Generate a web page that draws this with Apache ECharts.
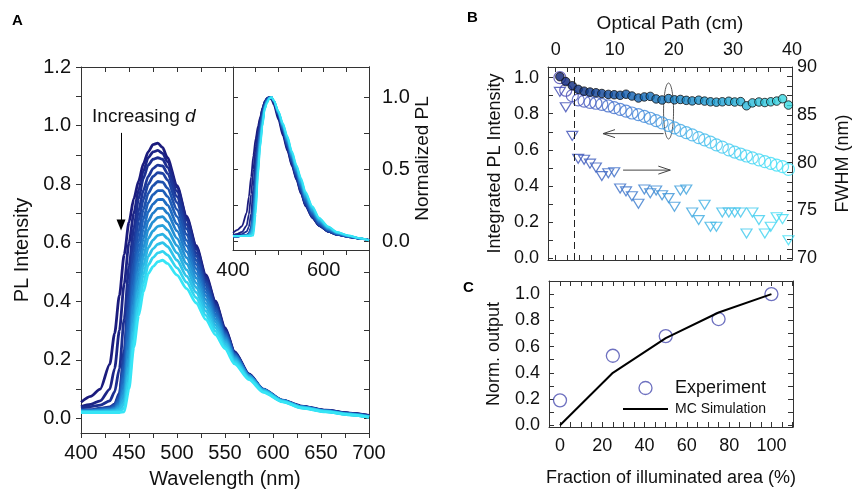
<!DOCTYPE html>
<html>
<head>
<meta charset="utf-8">
<script src="https://cdn.jsdelivr.net/npm/echarts@6/dist/echarts.min.js"></script>
<style>
html, body { margin: 0; padding: 0; background: #fff; }
#chart { width: 859px; height: 490px; }
</style>
</head>
<body>
<div id="chart"></div>
<script>
// ---- panel A : PL spectra (one row per excitation distance d) ----
var wavelengths = [400, 410, 420, 430, 435, 440, 445, 450, 455, 460, 465, 470, 475, 480, 485, 490, 500, 510, 520, 530, 540, 550, 560, 575, 590, 610, 630, 655, 680, 700];
var spectra = [
    [0.055, 0.075, 0.100, 0.185, 0.290, 0.420, 0.560, 0.670, 0.750, 0.810, 0.870, 0.910, 0.935, 0.940, 0.925, 0.890, 0.795, 0.690, 0.590, 0.490, 0.400, 0.310, 0.228, 0.152, 0.100, 0.062, 0.042, 0.028, 0.018, 0.010],
    [0.040, 0.048, 0.060, 0.100, 0.170, 0.300, 0.460, 0.600, 0.700, 0.780, 0.845, 0.890, 0.910, 0.915, 0.905, 0.877, 0.790, 0.685, 0.585, 0.485, 0.396, 0.306, 0.226, 0.150, 0.098, 0.061, 0.041, 0.027, 0.017, 0.009],
    [0.035, 0.040, 0.045, 0.060, 0.090, 0.170, 0.340, 0.520, 0.650, 0.750, 0.820, 0.865, 0.885, 0.890, 0.885, 0.858, 0.775, 0.677, 0.578, 0.480, 0.392, 0.303, 0.224, 0.149, 0.097, 0.060, 0.040, 0.027, 0.017, 0.009],
    [0.029, 0.029, 0.035, 0.039, 0.049, 0.087, 0.234, 0.458, 0.606, 0.709, 0.779, 0.826, 0.853, 0.865, 0.862, 0.837, 0.757, 0.662, 0.565, 0.471, 0.386, 0.298, 0.221, 0.146, 0.095, 0.059, 0.039, 0.026, 0.016, 0.008],
    [0.029, 0.029, 0.033, 0.037, 0.046, 0.079, 0.209, 0.419, 0.569, 0.676, 0.748, 0.799, 0.826, 0.839, 0.837, 0.814, 0.737, 0.647, 0.554, 0.464, 0.381, 0.297, 0.222, 0.148, 0.097, 0.060, 0.039, 0.026, 0.015, 0.008],
    [0.028, 0.028, 0.032, 0.035, 0.043, 0.072, 0.185, 0.379, 0.530, 0.639, 0.714, 0.768, 0.795, 0.809, 0.807, 0.786, 0.713, 0.628, 0.540, 0.453, 0.374, 0.293, 0.220, 0.148, 0.097, 0.060, 0.039, 0.026, 0.015, 0.007],
    [0.027, 0.027, 0.031, 0.033, 0.040, 0.065, 0.162, 0.340, 0.493, 0.603, 0.681, 0.736, 0.764, 0.778, 0.778, 0.758, 0.689, 0.608, 0.526, 0.442, 0.366, 0.289, 0.219, 0.148, 0.098, 0.061, 0.039, 0.026, 0.015, 0.007],
    [0.026, 0.026, 0.029, 0.032, 0.037, 0.058, 0.140, 0.304, 0.457, 0.569, 0.648, 0.705, 0.732, 0.747, 0.748, 0.729, 0.664, 0.589, 0.511, 0.431, 0.357, 0.285, 0.216, 0.148, 0.098, 0.061, 0.039, 0.026, 0.015, 0.006],
    [0.025, 0.025, 0.028, 0.030, 0.034, 0.051, 0.119, 0.269, 0.422, 0.535, 0.615, 0.674, 0.701, 0.717, 0.718, 0.701, 0.640, 0.569, 0.495, 0.419, 0.349, 0.280, 0.213, 0.147, 0.097, 0.060, 0.039, 0.025, 0.014, 0.006],
    [0.025, 0.025, 0.026, 0.028, 0.032, 0.045, 0.100, 0.237, 0.389, 0.502, 0.583, 0.644, 0.671, 0.686, 0.689, 0.672, 0.615, 0.549, 0.480, 0.406, 0.339, 0.274, 0.210, 0.145, 0.097, 0.060, 0.039, 0.025, 0.014, 0.005],
    [0.024, 0.024, 0.025, 0.026, 0.029, 0.040, 0.082, 0.206, 0.357, 0.470, 0.552, 0.614, 0.640, 0.656, 0.659, 0.644, 0.590, 0.528, 0.463, 0.393, 0.330, 0.268, 0.206, 0.143, 0.096, 0.060, 0.038, 0.024, 0.014, 0.005],
    [0.023, 0.023, 0.024, 0.025, 0.027, 0.034, 0.065, 0.177, 0.327, 0.439, 0.521, 0.583, 0.609, 0.625, 0.629, 0.615, 0.565, 0.507, 0.447, 0.380, 0.319, 0.261, 0.202, 0.141, 0.095, 0.059, 0.037, 0.024, 0.013, 0.005],
    [0.022, 0.022, 0.022, 0.023, 0.024, 0.029, 0.050, 0.150, 0.297, 0.409, 0.491, 0.553, 0.579, 0.595, 0.600, 0.587, 0.540, 0.486, 0.430, 0.366, 0.309, 0.254, 0.197, 0.139, 0.093, 0.058, 0.037, 0.023, 0.013, 0.004],
    [0.021, 0.021, 0.021, 0.021, 0.022, 0.024, 0.035, 0.124, 0.269, 0.379, 0.461, 0.524, 0.549, 0.565, 0.570, 0.558, 0.514, 0.465, 0.412, 0.352, 0.298, 0.246, 0.192, 0.136, 0.091, 0.057, 0.036, 0.023, 0.012, 0.004],
    [0.020, 0.020, 0.020, 0.020, 0.020, 0.020, 0.022, 0.101, 0.243, 0.351, 0.432, 0.494, 0.518, 0.535, 0.540, 0.529, 0.489, 0.443, 0.394, 0.338, 0.286, 0.238, 0.186, 0.132, 0.089, 0.056, 0.035, 0.022, 0.012, 0.004]
];
var wlLabels = [400, 450, 500, 550, 600, 650, 700];
var plLabels = [0, 0.2, 0.4, 0.6, 0.8, 1.0, 1.2];
var insetXLabels = [400, 600];
var insetYLabels = [0, 0.5, 1.0];

// ---- panel B : optical path series ----
var pathCm = [0.7, 1.7, 2.8, 3.8, 4.8, 5.8, 6.8, 7.8, 8.9, 9.9, 10.9, 11.9, 12.9, 14.0, 15.0, 16.0, 17.0, 18.0, 19.1, 20.1, 21.1, 22.1, 23.1, 24.2, 25.2, 26.2, 27.2, 28.2, 29.3, 30.3, 31.3, 32.3, 33.3, 34.4, 35.4, 36.4, 37.4, 38.4, 39.4];
var intFilled = [1.005, 0.978, 0.955, 0.935, 0.925, 0.920, 0.916, 0.912, 0.907, 0.905, 0.902, 0.908, 0.898, 0.887, 0.893, 0.896, 0.882, 0.876, 0.884, 0.877, 0.879, 0.874, 0.871, 0.875, 0.870, 0.866, 0.864, 0.866, 0.869, 0.865, 0.867, 0.844, 0.860, 0.865, 0.862, 0.866, 0.870, 0.883, 0.848];
var intOpen = [1.000, 0.930, 0.900, 0.877, 0.870, 0.863, 0.858, 0.852, 0.843, 0.834, 0.824, 0.814, 0.804, 0.795, 0.785, 0.775, 0.762, 0.749, 0.735, 0.722, 0.708, 0.695, 0.683, 0.668, 0.655, 0.643, 0.628, 0.615, 0.600, 0.588, 0.577, 0.566, 0.556, 0.545, 0.535, 0.525, 0.516, 0.507, 0.492];
var fwhm = [87.4, 85.8, 82.8, 80.4, 80.3, 79.9, 79.5, 78.6, 78.9, 79.0, 77.3, 77.0, 76.5, 75.7, 77.2, 76.8, 77.1, 76.6, 76.3, 75.4, 77.1, 77.2, 74.8, 74.0, 75.6, 73.3, 73.3, 74.8, 74.8, 74.8, 74.8, 72.6, 74.8, 74.0, 72.6, 73.3, 74.3, 74.1, 71.9];
var pathLabels = [0, 10, 20, 30, 40];
var intLabels = [0, 0.2, 0.4, 0.6, 0.8, 1.0];
var fwhmLabels = [70, 75, 80, 85, 90];

// ---- panel C : output vs illuminated fraction ----
var fracArea = [0, 25, 50, 75, 100];
var normExp = [0.19, 0.53, 0.68, 0.81, 1.00];
var normSim = [0.00, 0.40, 0.665, 0.86, 1.00];
var fracLabels = [0, 20, 40, 60, 80, 100];
var normLabels = [0, 0.2, 0.4, 0.6, 0.8, 1.0];

var FONT = '"Liberation Sans", Arial, sans-serif';
var AX = '#333';
var TXT = '#111';

function range(a, b, step) {
    var out = [];
    for (var v = a; v <= b + 1e-9; v += step) {
        out.push(Math.round(v * 1000) / 1000);
    }
    return out;
}

function mix(stops, t) {
    var n = stops.length - 1;
    var p = Math.max(0, Math.min(1, t)) * n;
    var i = Math.min(Math.floor(p), n - 1);
    var f = p - i;
    var a = stops[i], b = stops[i + 1];
    var c = [0, 1, 2].map(function(k) {
        var x = parseInt(a.substr(1 + 2 * k, 2), 16);
        var y = parseInt(b.substr(1 + 2 * k, 2), 16);
        return Math.round(x + (y - x) * f);
    });
    return 'rgb(' + c.join(',') + ')';
}

function ticks(vals, inside) {
    return { show: true, inside: inside, length: 5, customValues: vals, lineStyle: { color: AX } };
}

function labels(vals, size, margin, dec) {
    return {
        show: true, customValues: vals, fontSize: size, margin: margin, color: TXT, fontFamily: FONT,
        formatter: function(v) { return dec ? Number(v).toFixed(dec) : String(Math.round(v)); }
    };
}

function axis(opt) {
    return Object.assign({
        type: 'value',
        axisLine: { show: true, onZero: false, lineStyle: { color: AX, width: 1 } },
        splitLine: { show: false },
        axisTick: { show: false },
        axisLabel: { show: false },
        nameLocation: 'middle',
        nameTextStyle: { color: TXT, fontFamily: FONT, fontSize: 18 }
    }, opt);
}

var specStops = ['#1b1b7d', '#1d3c9e', '#1f6cc2', '#28a9df', '#36e5f6'];
var series = [];

spectra.forEach(function(row, k) {
    var col = mix(specStops, k / (spectra.length - 1));
    var s = {
        type: 'line', xAxisIndex: 0, yAxisIndex: 0, silent: true,
        showSymbol: false, smooth: 0.25, smoothMonotone: 'x',
        lineStyle: { width: 2.8, color: col },
        data: wavelengths.map(function(w, i) { return [w, row[i]]; })
    };
    if (k === 0) {
        s.markLine = {
            silent: true, symbol: ['none', 'triangle'], symbolSize: [9, 11],
            label: { show: false },
            lineStyle: { color: '#000', width: 1, type: 'solid' },
            data: [[{ coord: [441.7, 0.975] }, { coord: [441.7, 0.66] }]]
        };
    }
    series.push(s);
});

// inset: each spectrum divided by its own maximum
spectra.forEach(function(row, k) {
    var col = mix(specStops, k / (spectra.length - 1));
    var peak = Math.max.apply(null, row);
    series.push({
        type: 'line', xAxisIndex: 2, yAxisIndex: 3, silent: true,
        showSymbol: false, smooth: 0.25, smoothMonotone: 'x',
        lineStyle: { width: 1.8, color: col },
        data: wavelengths.map(function(w, i) { return [w, row[i] / peak]; })
    });
});

var openStops = ['#4a42b0', '#3f7fd6', '#41c4ef', '#40e4f8'];
var triStops = ['#3b43b0', '#3a78cc', '#3cb6e6', '#3ee0f6'];
var fillStops = ['#0a1a70', '#1062b4', '#1d9cd2', '#38dce2'];

series.push({
    type: 'scatter', xAxisIndex: 4, yAxisIndex: 5, silent: true,
    symbol: 'triangle', symbolRotate: 180, symbolSize: [11, 9],
    data: pathCm.map(function(x, i) {
        return { value: [x, fwhm[i]], itemStyle: { color: 'rgba(0,0,0,0)', borderColor: mix(triStops, x / 40), borderWidth: 1.2 } };
    })
});
series.push({
    type: 'scatter', xAxisIndex: 4, yAxisIndex: 4, silent: true,
    symbol: 'circle', symbolSize: 12,
    data: pathCm.map(function(x, i) {
        return { value: [x, intOpen[i]], itemStyle: { color: 'rgba(0,0,0,0)', borderColor: mix(openStops, x / 40), borderWidth: 1.2 } };
    })
});
series.push({
    type: 'scatter', xAxisIndex: 4, yAxisIndex: 4, silent: true,
    symbol: 'circle', symbolSize: 8.5,
    data: pathCm.map(function(x, i) {
        return { value: [x, intFilled[i]], itemStyle: { color: mix(fillStops, x / 40), borderColor: '#111', borderWidth: 1 } };
    }),
    markLine: {
        silent: true, symbol: 'none', label: { show: false },
        lineStyle: { color: '#222', width: 1, type: [7, 4] },
        data: [{ xAxis: 3.2 }]
    }
});

series.push({
    name: 'MC Simulation', type: 'line', xAxisIndex: 6, yAxisIndex: 6, silent: true,
    symbol: 'none', lineStyle: { color: '#000', width: 2 }, itemStyle: { color: '#000' },
    data: fracArea.map(function(x, i) { return [x, normSim[i]]; })
});
series.push({
    name: 'Experiment', type: 'scatter', xAxisIndex: 6, yAxisIndex: 6, silent: true,
    symbol: 'circle', symbolSize: 13,
    itemStyle: { color: 'rgba(0,0,0,0)', borderColor: '#4a4db0', borderWidth: 1.3 },
    data: fracArea.map(function(x, i) { return [x, normExp[i]]; })
});

var option = {
    animation: false,
    backgroundColor: '#fff',
    textStyle: { fontFamily: FONT },
    grid: [
        { left: 81, top: 67, width: 288, height: 366, outerBoundsMode: 'none' },
        { left: 233, top: 67, width: 136, height: 183, outerBoundsMode: 'none' },
        { left: 548, top: 67, width: 244, height: 193, outerBoundsMode: 'none' },
        { left: 549, top: 281, width: 244, height: 146, outerBoundsMode: 'none' }
    ],
    xAxis: [
        axis({ gridIndex: 0, position: 'bottom', min: 400, max: 700, axisTick: ticks(range(400, 700, 25), false),
            axisLabel: labels(wlLabels, 20, 10), name: 'Wavelength (nm)', nameGap: 36,
            nameTextStyle: { color: TXT, fontFamily: FONT, fontSize: 20 } }),
        axis({ gridIndex: 0, position: 'top', min: 400, max: 700, axisTick: ticks(range(425, 550, 25), true) }),
        axis({ gridIndex: 1, position: 'bottom', min: 400, max: 700, axisTick: ticks(range(450, 650, 50), false),
            axisLabel: labels(insetXLabels, 20, 10) }),
        axis({ gridIndex: 1, position: 'top', min: 400, max: 700, axisTick: ticks(range(450, 650, 50), true) }),
        axis({ gridIndex: 2, position: 'top', min: -1.31, max: 40, axisTick: ticks(range(0, 40, 2), true),
            axisLabel: labels(pathLabels, 18, 8), name: 'Optical Path (cm)', nameGap: 34,
            nameTextStyle: { color: TXT, fontFamily: FONT, fontSize: 19 } }),
        axis({ gridIndex: 2, position: 'bottom', min: -1.31, max: 40, axisTick: ticks(range(0, 40, 2), true) }),
        axis({ gridIndex: 3, position: 'bottom', min: -5.2, max: 110.2, axisTick: ticks(range(0, 110, 5), true),
            axisLabel: labels(fracLabels, 18, 10), name: 'Fraction of illuminated area (%)', nameGap: 42,
            nameTextStyle: { color: TXT, fontFamily: FONT, fontSize: 18 } }),
        axis({ gridIndex: 3, position: 'top', min: -5.2, max: 110.2, axisTick: ticks(range(0, 110, 5), true) })
    ],
    yAxis: [
        axis({ gridIndex: 0, position: 'left', min: -0.05, max: 1.2, axisTick: ticks(range(0, 1.2, 0.1), false),
            axisLabel: labels(plLabels, 20, 10, 1), name: 'PL Intensity', nameGap: 49,
            nameTextStyle: { color: TXT, fontFamily: FONT, fontSize: 20 } }),
        axis({ gridIndex: 0, position: 'right', min: -0.05, max: 1.2, axisTick: ticks(range(0, 0.5, 0.1), true) }),
        axis({ gridIndex: 1, position: 'left', min: -0.06, max: 1.21, axisTick: ticks(range(0, 1, 0.25), true) }),
        axis({ gridIndex: 1, position: 'right', min: -0.06, max: 1.21, axisTick: ticks(range(0, 1, 0.25), true),
            axisLabel: labels(insetYLabels, 20, 13, 1), name: 'Normalized PL', nameGap: 44, nameRotate: 90,
            nameTextStyle: { color: TXT, fontFamily: FONT, fontSize: 19 } }),
        axis({ gridIndex: 2, position: 'left', min: -0.0094, max: 1.0586, axisTick: ticks(range(0, 1, 0.1), true),
            axisLabel: labels(intLabels, 18, 9, 1), name: 'Integrated PL Intensity', nameGap: 44,
            nameTextStyle: { color: TXT, fontFamily: FONT, fontSize: 18 } }),
        axis({ gridIndex: 2, position: 'right', min: 69.83, max: 90.0, axisTick: ticks(range(70, 90, 1), true),
            axisLabel: labels(fwhmLabels, 18, 5), name: 'FWHM (nm)', nameGap: 42, nameRotate: 90,
            nameTextStyle: { color: TXT, fontFamily: FONT, fontSize: 18 } }),
        axis({ gridIndex: 3, position: 'left', min: -0.013, max: 1.10, axisTick: ticks(range(0, 1.1, 0.1), true),
            axisLabel: labels(normLabels, 18, 9, 1), name: 'Norm. output', nameGap: 46,
            nameTextStyle: { color: TXT, fontFamily: FONT, fontSize: 18 } }),
        axis({ gridIndex: 3, position: 'right', min: -0.013, max: 1.10, axisTick: ticks(range(0, 1.1, 0.1), true) })
    ],
    legend: {
        left: 618, top: 374, orient: 'vertical', itemWidth: 45, itemHeight: 13, itemGap: 5,
        selectedMode: false,
        textStyle: { color: TXT, fontFamily: FONT, padding: [0, 0, 0, 2] },
        data: [
            { name: 'Experiment', icon: 'circle', textStyle: { fontSize: 18 },
              itemStyle: { color: 'rgba(0,0,0,0)', borderColor: '#4a4db0', borderWidth: 1.3 } },
            { name: 'MC Simulation', icon: 'path://M0,0 L45,0 L45,2 L0,2 Z', textStyle: { fontSize: 14 },
              itemStyle: { color: '#000', borderWidth: 0 } }
        ]
    },
    series: series
};

var chart = echarts.init(document.getElementById('chart'), null, { renderer: 'canvas' });
chart.setOption(option);

// annotations anchored to data space
var bAxes = { xAxisIndex: 4, yAxisIndex: 4 };
var oval = chart.convertToPixel(bAxes, [19.1, 0.815]);
var la0 = chart.convertToPixel(bAxes, [18.25, 0.69]);
var la1 = chart.convertToPixel(bAxes, [8.0, 0.69]);
var ra0 = chart.convertToPixel(bAxes, [11.4, 0.488]);
var ra1 = chart.convertToPixel(bAxes, [19.4, 0.488]);
var txt = chart.convertToPixel({ xAxisIndex: 0, yAxisIndex: 0 }, [411.5, 1.03]);
var arrowStyle = { stroke: '#444', lineWidth: 1, fill: null };

chart.setOption({
    graphic: [
        { type: 'text', left: 12, top: 13, style: { text: 'A', font: 'bold 15px ' + FONT, fill: '#000' } },
        { type: 'text', left: 467, top: 10, style: { text: 'B', font: 'bold 15px ' + FONT, fill: '#000' } },
        { type: 'text', left: 463, top: 280, style: { text: 'C', font: 'bold 15px ' + FONT, fill: '#000' } },
        {
            type: 'text', x: txt[0], y: txt[1],
            style: {
                text: 'Increasing {i|d}', font: '19px ' + FONT, fill: TXT, verticalAlign: 'middle',
                rich: { i: { fontStyle: 'italic', fontSize: 19, fontFamily: FONT, fill: TXT } }
            }
        },
        { type: 'ellipse', shape: { cx: oval[0], cy: oval[1], rx: 5, ry: 28 }, style: { stroke: '#555', lineWidth: 1, fill: null } },
        { type: 'polyline', shape: { points: [la0, la1] }, style: arrowStyle },
        { type: 'polyline', shape: { points: [[la1[0] + 12, la1[1] - 4], la1, [la1[0] + 12, la1[1] + 4]] }, style: arrowStyle },
        { type: 'polyline', shape: { points: [ra0, ra1] }, style: arrowStyle },
        { type: 'polyline', shape: { points: [[ra1[0] - 12, ra1[1] - 4], ra1, [ra1[0] - 12, ra1[1] + 4]] }, style: arrowStyle }
    ]
});
</script>
</body>
</html>
